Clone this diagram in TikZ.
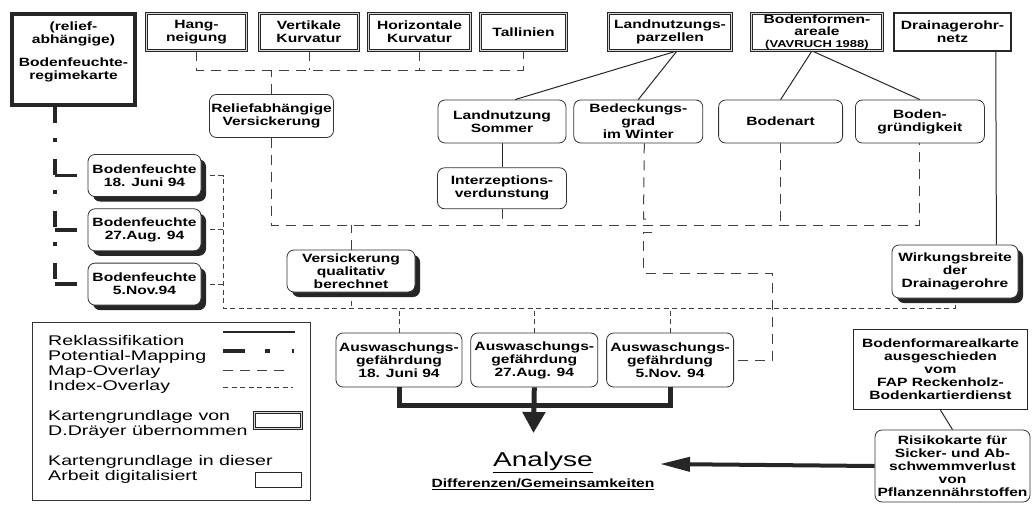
\documentclass[tikz,border=0pt]{standalone}
\usepackage{fontspec}
\setmainfont{Liberation Sans}[FakeStretch=1.3]
\newfontfamily\legfont{Liberation Sans}[FakeStretch=1.4]
\usepackage{tikz}
\usetikzlibrary{positioning,arrows.meta,shadows,backgrounds}

\newcommand{\boxfont}{\bfseries\fontsize{12}{13}\selectfont}

\begin{document}
\begin{tikzpicture}[x=1pt,y=-1pt,every node/.style={align=center,font=\boxfont,inner sep=1pt},
    karte/.style={draw=black!85,line width=0.8pt,double=black!15,double distance=1.6pt,fill=white,minimum height=37pt},
    digit/.style={draw=black!85,line width=1.5pt,fill=white},
    regimebox/.style={draw=black!85,line width=4pt,fill=white,minimum width=123pt,minimum height=91pt},
    proc/.style={draw=black!80,line width=0.8pt,rounded corners=7pt,fill=white,minimum width=128pt,minimum height=43pt},
    result/.style={proc,drop shadow={shadow xshift=5pt,shadow yshift=-5pt,fill=black!85,opacity=1}},
    reklass/.style={draw=black!85,line width=1pt},
    flow/.style={draw=black!85,line width=5pt},
    potmap/.style={draw=black!85,line width=3.5pt,dash pattern=on 16pt off 15pt on 4pt off 17pt},
    potstub/.style={draw=black!85,line width=3.5pt,dash pattern=on 22pt off 40pt},
    mapov/.style={draw=black!75,line width=1pt,dash pattern=on 10pt off 7pt},
    idxov/.style={draw=black!75,line width=0.9pt,dash pattern=on 5pt off 3.5pt},
    legtext/.style={font=\legfont\fontsize{14}{15}\selectfont,anchor=base west,inner sep=0pt}]
  \useasboundingbox (0,0) rectangle (1032,504);

  % Kartengrundlagen
  \node[regimebox] (regime) at (73.5,59.5) {};
  \node (regimetxt) at ([yshift=8pt]regime.center) {(relief-\\abhängige)\\[10pt]Bodenfeuchte-\\regimekarte};
  \node[karte,minimum width=100pt] (hang) at (196.5,32) {Hang-\\neigung};
  \node[karte,minimum width=99pt] (vert) at (309,32) {Vertikale\\Kurvatur};
  \node[karte,minimum width=102pt] (horiz) at (419.5,32) {Horizontale\\Kurvatur};
  \node[karte,minimum width=86pt] (tall) at (523.5,32) {Tallinien};
  \node[karte,minimum width=123pt] (parz) at (670,32) {Landnutzungs-\\parzellen};
  \node[karte,minimum width=131pt,font=\bfseries\fontsize{12}{12}\selectfont] (areale) at (817,32) {Bodenformen-\\areale\\{\fontsize{10}{11}\selectfont (VAVRUCH 1988)}};
  \node[digit,minimum width=117pt,minimum height=38pt] (drain) at (952.5,32) {Drainagerohr-\\netz};

  % Zwischenprodukte
  \node[proc,minimum width=124pt] (relief) at (271.5,116) {Reliefabhängige\\Versickerung};
  \node[proc] (lnsom) at (502,121.5) {Landnutzung\\Sommer};
  \node[proc,minimum width=129pt] (bedeck) [right=7pt of lnsom] {Bedeckungs-\\grad\\im Winter};
  \node[proc,minimum width=124pt] (bodenart) [right=15pt of bedeck] {Bodenart};
  \node[proc,minimum width=129pt] (gruend) [right=12pt of bodenart] {Boden-\\gründigkeit};
  \node[proc,minimum width=129pt,minimum height=41pt] (interz) [below=24pt of lnsom] {Interzeptions-\\verdunstung};

  \node[result,minimum width=113pt,minimum height=42pt] (bf1) at (144.5,175.5) {Bodenfeuchte\\18. Juni 94};
  \node[result,minimum width=113pt,minimum height=42pt] (bf2) [below=11.5pt of bf1] {Bodenfeuchte\\27.Aug. 94};
  \node[result,minimum width=113pt,minimum height=42pt] (bf3) [below=11.5pt of bf2] {Bodenfeuchte\\5.Nov.94};
  \node[result,minimum height=42pt] (versick) at (351,271) {Versickerung\\qualitativ\\berechnet};
  \node[result,minimum width=126pt,minimum height=53pt] (wirk) at (955,271.5) {Wirkungsbreite\\der\\Drainagerohre};

  \node[proc,minimum width=126pt,minimum height=54pt] (ausw1) at (399,360) {Auswaschungs-\\gefährdung\\18. Juni 94};
  \node[proc,minimum width=127pt,minimum height=54pt] (ausw2) [right=8pt of ausw1] {Auswaschungs-\\gefährdung\\27.Aug. 94};
  \node[proc,minimum width=127pt,minimum height=54pt] (ausw3) [right=8pt of ausw2] {Auswaschungs-\\gefährdung\\5.Nov. 94};

  \node[digit,minimum width=174pt,minimum height=80pt] (bfkarte) at (940.5,369.5) {Bodenformarealkarte\\ausgeschieden\\vom\\FAP Reckenholz-\\Bodenkartierdienst};
  \node[proc,minimum width=155pt,minimum height=72pt] (risiko) at (952.5,466) {Risikokarte für\\Sicker- und Ab-\\schwemmverlust\\von\\Pflanzennährstoffen};

  \node[font=\legfont\fontsize{20}{22}\selectfont] (analyse) at (543,462) {\underline{Analyse}};
  \node[font=\bfseries\fontsize{12}{13}\selectfont] (diff) at (543,484) {\underline{Differenzen/Gemeinsamkeiten}};

  % Legende
  \node[draw=black!80,line width=0.8pt,minimum width=278pt,minimum height=178pt] (legende) at (171,411) {};
  \node[legtext] (lrek) at (48,345) {Reklassifikation};
  \node[legtext] (lpot) at (48,360) {Potential-Mapping};
  \node[legtext] (lmap) at (48,375) {Map-Overlay};
  \node[legtext] (lidx) at (48,390) {Index-Overlay};
  \node[legtext] (lkdr1) at (48,420) {Kartengrundlage von};
  \node[legtext] (lkdr2) at (48,435) {D.Dräyer übernommen};
  \node[legtext] (ldig1) at (48,465) {Kartengrundlage in dieser};
  \node[legtext] (ldig2) at (48,480) {Arbeit digitalisiert};
  \draw[reklass,line width=1.5pt] (223,332) -- (295,332);
  \draw[draw=black!85,line width=3.5pt,dash pattern=on 22pt off 20pt on 5pt off 22pt on 2pt off 20pt] (223,351) -- (295,351);
  \draw[mapov] (223,370) -- (290,370);
  \draw[idxov] (223,387) -- (293,387);
  \node[karte,minimum width=47pt,minimum height=16pt] (lgdouble) at (278,420.5) {};
  \node[digit,line width=1pt,minimum width=46pt,minimum height=15pt] (lgsingle) at (278.5,480) {};

  \coordinate (topbus) at (0,70);
  \coordinate (midbus) at (0,225);
  \coordinate (idxbus) at (0,308);
  \coordinate (bfbus) at (223,0);
  \coordinate (pmx) at (55,0);
  \coordinate (hopin) at (643.5,219);
  \coordinate (hopout) at (643.5,232);
  \coordinate (bend) at (772,273);
  \coordinate (tipdown) at (533.5,433);
  \coordinate (tipleft) at (660,464);

  \begin{scope}[on background layer]
  % Reklassifikation
  \path[reklass]
    ([xshift=7pt]parz.south) edge ([xshift=13pt]lnsom.north)
    ([xshift=7pt]parz.south) edge (bedeck.north)
    ([xshift=-5pt]areale.south) edge (bodenart.north)
    ([xshift=-5pt]areale.south) edge (gruend.north)
    (lnsom.south) edge (interz.north)
    (bfkarte.south) edge (risiko.north)
    ([xshift=-16pt]drain.south east) edge ([xshift=-22pt]wirk.north east);

  % Potential-Mapping
  \draw[potmap] (regime.south -| pmx) -- (bf3.west -| pmx);
  \draw[potstub] (bf1.west -| pmx) -- (bf1.west);
  \draw[potstub] (bf2.west -| pmx) -- (bf2.west);
  \draw[potstub] (bf3.west -| pmx) -- (bf3.west);

  % Map-Overlay
  \draw[mapov] (hang.south) -- (hang.south |- topbus) -| (tall.south);
  \draw[mapov] (vert.south) -- (vert.south |- topbus);
  \draw[mapov] (horiz.south) -- (horiz.south |- topbus);
  \draw[mapov] (relief.north) -- (relief.north |- topbus);
  \draw[mapov] (relief.south) -- (relief.south |- midbus) -| (gruend.south);
  \draw[mapov] (interz.south) -- (interz.south |- midbus);
  \draw[mapov] (bodenart.south) -- (bodenart.south |- midbus);
  \draw[mapov] (versick.north) -- (versick.north |- midbus);
  \draw[mapov] ([xshift=6pt]bedeck.south) -- (hopin) -- ++(8,0);
  \draw[mapov] ([xshift=8pt]hopout) -- (hopout) |- (bend) |- (ausw3.east);

  % Index-Overlay
  \draw[idxov] (bf1.east) -- (bf1.east -| bfbus) -- (bfbus |- idxbus) -- (wirk.south |- idxbus) -- (wirk.south);
  \draw[idxov] (bf2.east) -- (bf2.east -| bfbus);
  \draw[idxov] (bf3.east) -- (bf3.east -| bfbus);
  \draw[idxov] (versick.south) -- (versick.south |- idxbus);
  \draw[idxov] (ausw1.north) -- (ausw1.north |- idxbus);
  \draw[idxov] (ausw2.north) -- (ausw2.north |- idxbus);
  \draw[idxov] (ausw3.north) -- (ausw3.north |- idxbus);
  \end{scope}

  % Analyse
  \draw[flow] (ausw1.south) -- ++(0,18) -| (ausw3.south);
  \draw[flow,-{Triangle[width=22pt,length=21pt]}] (ausw2.south) -- (tipdown);
  \draw[flow,line width=4pt,-{Triangle[width=14pt,length=30pt]}] (risiko.west) -- (tipleft);
\end{tikzpicture}
\end{document}
